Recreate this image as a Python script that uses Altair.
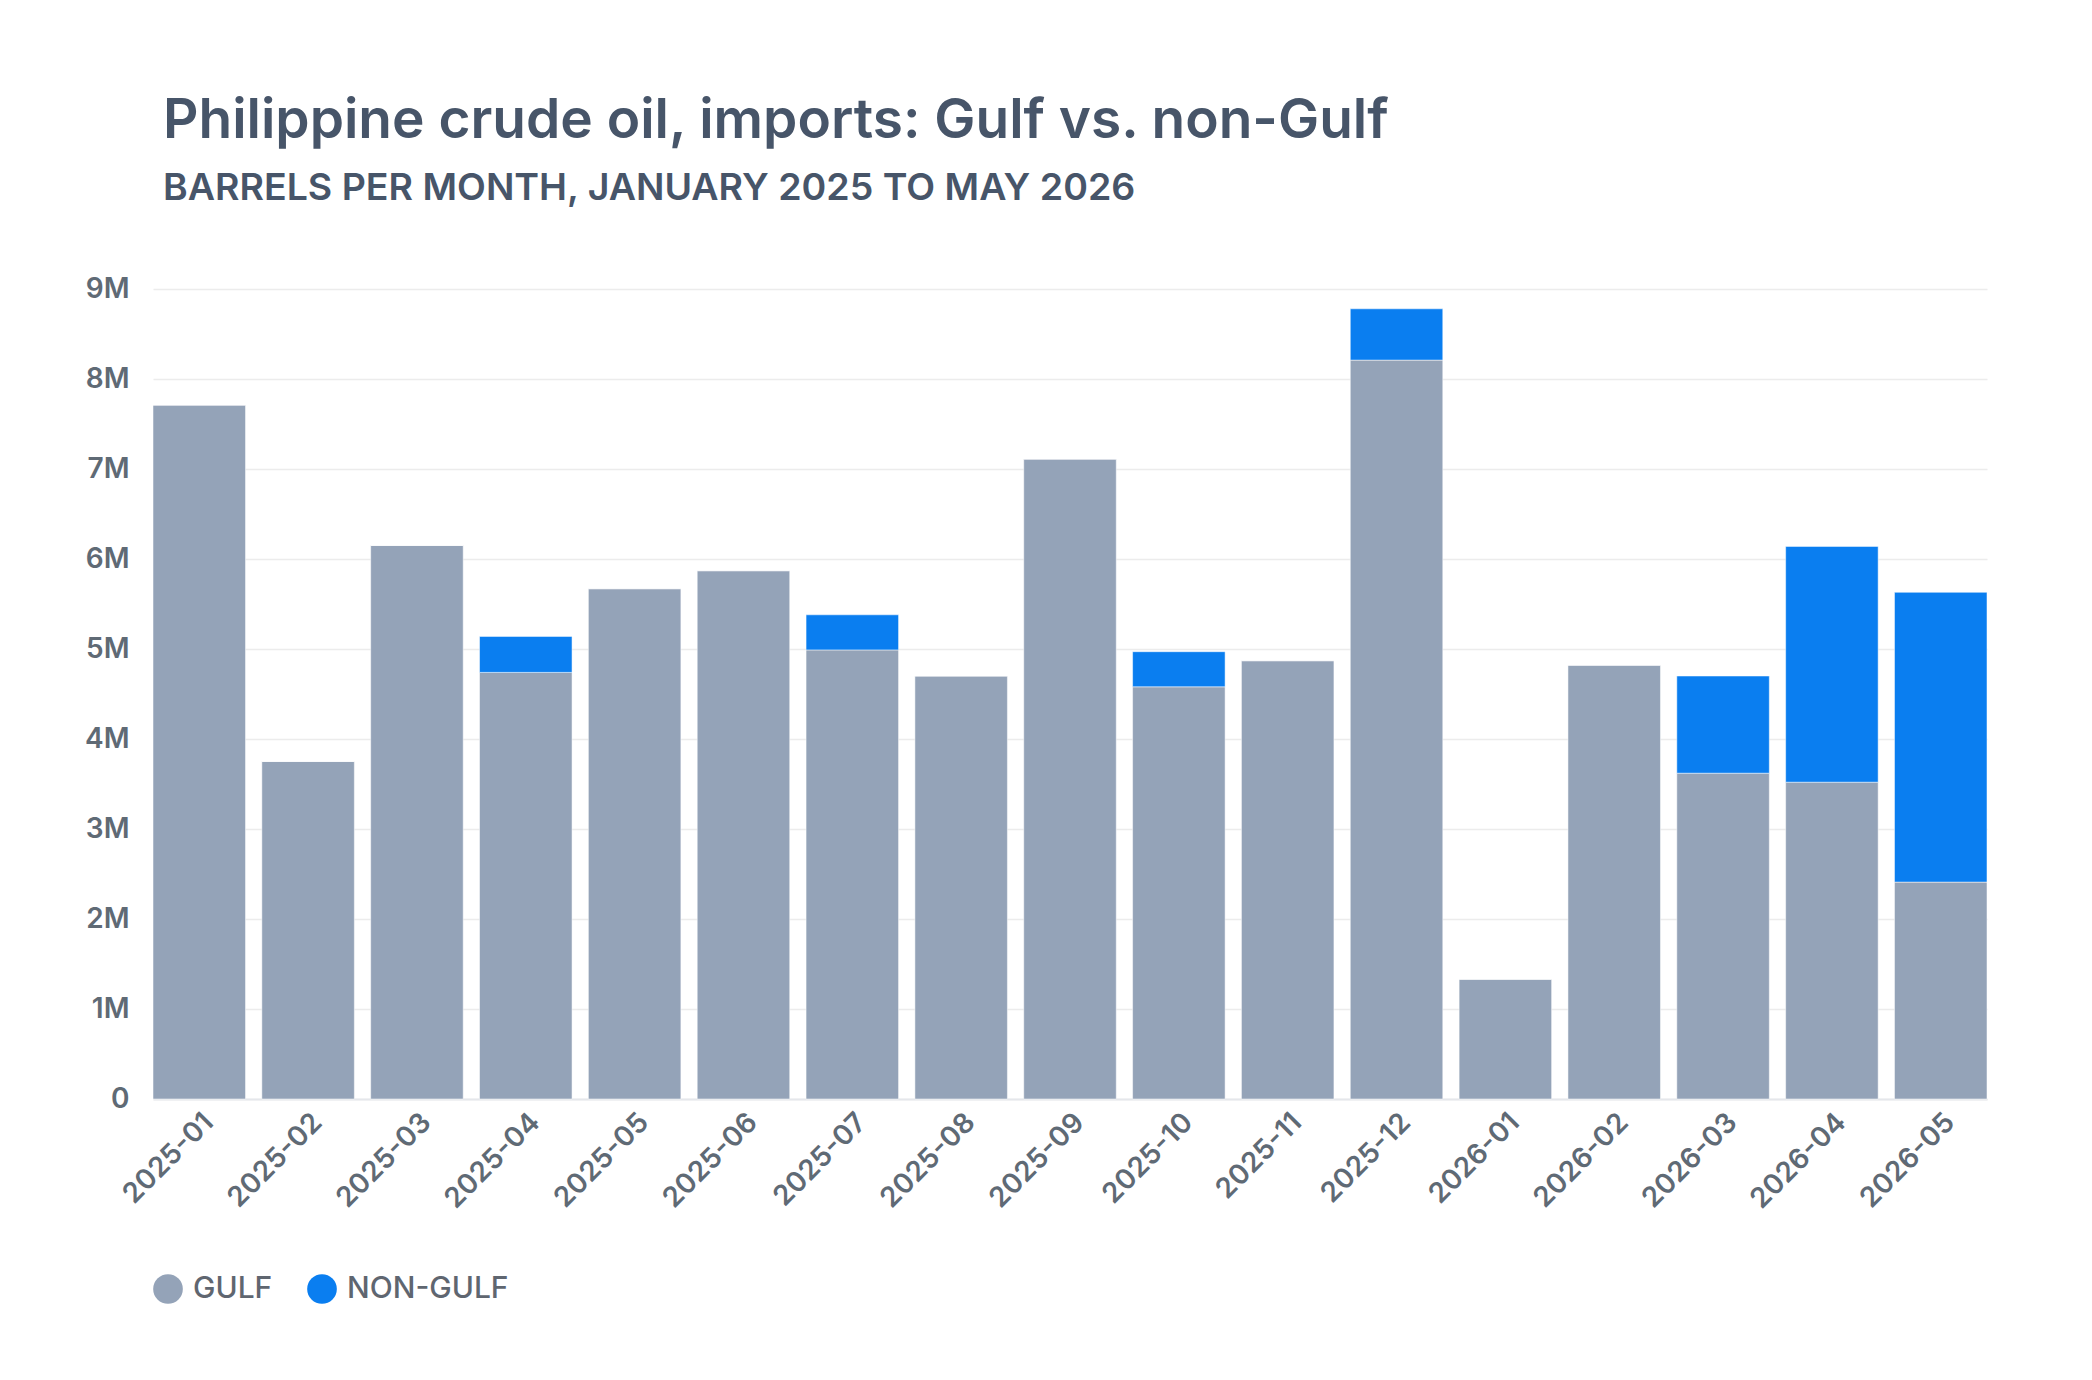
import pandas as pd
import altair as alt

MONTHS = [
    "2025-01", "2025-02", "2025-03", "2025-04", "2025-05", "2025-06",
    "2025-07", "2025-08", "2025-09", "2025-10", "2025-11", "2025-12",
    "2026-01", "2026-02", "2026-03", "2026-04", "2026-05",
]

# barrels per month
GULF = [
    7_710_000, 3_750_000, 6_150_000, 4_740_000, 5_670_000, 5_870_000,
    4_990_000, 4_700_000, 7_110_000, 4_580_000, 4_870_000, 8_210_000,
    1_330_000, 4_820_000, 3_620_000, 3_520_000, 2_410_000,
]
NON_GULF = [
    0, 0, 0, 400_000, 0, 0,
    390_000, 0, 0, 390_000, 0, 570_000,
    0, 0, 1_080_000, 2_620_000, 3_220_000,
]

Y_TICKS = [0, 1e6, 2e6, 3e6, 4e6, 5e6, 6e6, 7e6, 8e6, 9e6]

SERIES_ORDER = ["GULF", "NON-GULF"]
SERIES_COLORS = ["#94a3b8", "#0a7ef0"]

FONT = "Inter"
TEXT_COLOR = "#475569"
LABEL_COLOR = "#5f6a75"

df = pd.concat(
    [
        pd.DataFrame({"month": MONTHS, "series": "GULF", "barrels": GULF, "rank": 0}),
        pd.DataFrame({"month": MONTHS, "series": "NON-GULF", "barrels": NON_GULF, "rank": 1}),
    ],
    ignore_index=True,
)

chart = (
    alt.Chart(
        df,
        title=alt.Title(
            "Philippine crude oil, imports: Gulf vs. non-Gulf",
            subtitle="BARRELS PER MONTH, JANUARY 2025 TO MAY 2026",
        ),
    )
    .mark_bar(stroke="#ffffff", strokeOpacity=0.5, strokeWidth=1)
    .encode(
        x=alt.X(
            "month:N",
            sort=MONTHS,
            title=None,
            scale=alt.Scale(paddingInner=0.15, paddingOuter=0),
            axis=alt.Axis(
                labelAngle=-45,
                ticks=False,
                domain=True,
                domainColor="#e5e7eb",
                domainWidth=2,
                labelPadding=9,
            ),
        ),
        y=alt.Y(
            "barrels:Q",
            stack="zero",
            title=None,
            scale=alt.Scale(domain=[0, 9_000_000], nice=False),
            axis=alt.Axis(
                values=Y_TICKS,
                labelExpr="datum.value == 0 ? '0' : format(datum.value / 1000000, 'd') + 'M'",
                ticks=False,
                domain=False,
                labelPadding=24,
                labelOverlap=False,
            ),
        ),
        color=alt.Color(
            "series:N",
            scale=alt.Scale(domain=SERIES_ORDER, range=SERIES_COLORS),
            legend=alt.Legend(
                title=None,
                orient="none",
                direction="horizontal",
                legendX=0,
                legendY=985,
                symbolType="circle",
                symbolSize=880,
                symbolStrokeWidth=0,
                labelFontSize=30,
                labelFont=FONT,
                labelFontWeight=500,
                labelColor="#5f6670",
                labelOffset=10,
                labelLimit=400,
                columnPadding=34,
            ),
        ),
        order=alt.Order("rank:Q", sort="ascending"),
        tooltip=["month", "series", "barrels"],
    )
    .properties(
        width=1834,
        height=810,
        autosize=alt.AutoSizeParams(type="none"),
        padding={"left": 145, "top": 281, "right": 97, "bottom": 273},
    )
    .configure_view(stroke=None)
    .configure_axis(
        labelFont=FONT,
        labelFontSize=28,
        labelFontWeight=600,
        labelColor=LABEL_COLOR,
        gridColor="#ececec",
        gridWidth=1.5,
    )
    .configure_axisX(grid=False)
    .configure_title(
        font=FONT,
        fontSize=55,
        fontWeight=600,
        color=TEXT_COLOR,
        subtitleFont=FONT,
        subtitleFontSize=37.5,
        subtitleFontWeight=600,
        subtitleColor=TEXT_COLOR,
        subtitlePadding=20,
        anchor="start",
        frame="group",
        offset=67,
        dx=10,
    )
)

chart.save("out.html", embed_options={"renderer": "svg", "actions": False})
